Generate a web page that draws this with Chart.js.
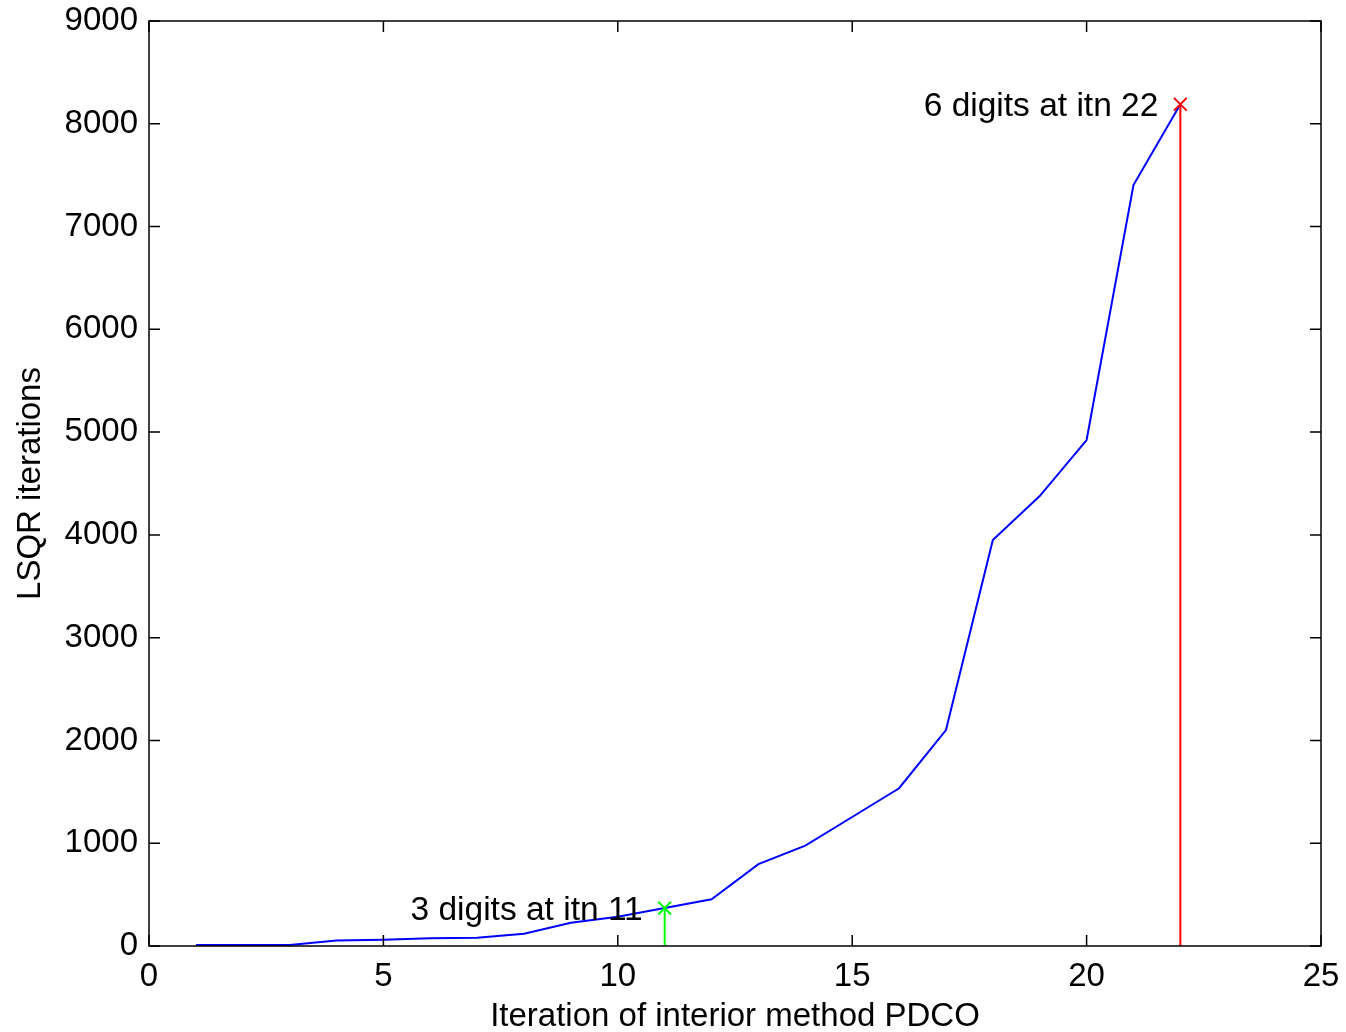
<!DOCTYPE html>
<html>
<head>
<meta charset="utf-8">
<script src="https://cdn.jsdelivr.net/npm/chart.js@4/dist/chart.umd.min.js"></script>
<style>
  html, body { margin: 0; padding: 0; background: #fff; }
  #wrap { width: 1346px; height: 1032px; }
</style>
</head>
<body>
<div id="wrap"><canvas id="lsqrChart"></canvas></div>
<script>
// PDCO outer iterations and LSQR iterations
const pdcoItn = [1, 2, 3, 4, 5, 6, 7, 8, 9, 10, 11, 12, 13, 14, 15, 16, 17, 18, 19, 20, 21, 22];
const lsqrItn = [10, 10, 10, 53, 60, 76, 80, 120, 226, 285, 369, 455, 796, 976, 1255, 1535, 2101, 3950, 4378, 4923, 7404, 8190];

// markers for digits of accuracy
const markItn = [11, 22];
const markVal = [369, 8190];
const markText = ['3 digits at itn 11', '6 digits at itn 22'];
const markColor = ['#00ff00', '#ff0000'];

const xTicks = [0, 5, 10, 15, 20, 25];
const yTicks = [0, 1000, 2000, 3000, 4000, 5000, 6000, 7000, 8000, 9000];

const FONT = '"Liberation Sans", Arial, Helvetica, sans-serif';

const stems = markItn.map((itn, i) => ({
  label: markText[i],
  data: [{x: itn, y: 0}, {x: itn, y: markVal[i]}],
  borderColor: markColor[i],
  backgroundColor: markColor[i],
  borderWidth: 2,
  pointStyle: 'crossRot',
  pointRadius: [0, 9],
  pointBorderWidth: 2,
  pointBorderColor: markColor[i],
  order: 1
}));

// MATLAB style box with inward ticks
const boxPlugin = {
  id: 'box',
  afterDraw(chart) {
    const {ctx, chartArea: a, scales} = chart;
    ctx.save();
    ctx.strokeStyle = '#000';
    ctx.lineWidth = 1.5;
    ctx.strokeRect(a.left, a.top, a.right - a.left, a.bottom - a.top);
    const len = 11;
    ctx.beginPath();
    xTicks.forEach(v => {
      const px = scales.x.getPixelForValue(v);
      ctx.moveTo(px, a.bottom); ctx.lineTo(px, a.bottom - len);
      ctx.moveTo(px, a.top); ctx.lineTo(px, a.top + len);
    });
    yTicks.forEach(v => {
      const py = scales.y.getPixelForValue(v);
      ctx.moveTo(a.left, py); ctx.lineTo(a.left + len, py);
      ctx.moveTo(a.right, py); ctx.lineTo(a.right - len, py);
    });
    ctx.stroke();
    ctx.restore();
  }
};

// text next to the markers
const labelPlugin = {
  id: 'markLabels',
  afterDatasetsDraw(chart) {
    const {ctx, scales} = chart;
    ctx.save();
    ctx.font = '33.5px ' + FONT;
    ctx.fillStyle = '#000';
    ctx.textAlign = 'right';
    ctx.textBaseline = 'middle';
    markItn.forEach((itn, i) => {
      const px = scales.x.getPixelForValue(itn);
      const py = scales.y.getPixelForValue(markVal[i]);
      ctx.fillText(markText[i], px - 22, py + 3);
    });
    ctx.restore();
  }
};

new Chart(document.getElementById('lsqrChart'), {
  type: 'line',
  data: {
    datasets: [{
      label: 'LSQR iterations',
      data: pdcoItn.map((x, i) => ({x: x, y: lsqrItn[i]})),
      borderColor: '#0000ff',
      borderWidth: 2,
      pointRadius: 0,
      fill: false,
      tension: 0,
      order: 2
    }, ...stems]
  },
  options: {
    responsive: true,
    maintainAspectRatio: false,
    animation: false,
    layout: { padding: { top: 21, right: 25, left: 0, bottom: 0 } },
    plugins: {
      legend: { display: false },
      tooltip: { enabled: false }
    },
    scales: {
      x: {
        type: 'linear',
        min: 0,
        max: 25,
        afterFit: s => { s.height = 86; s.paddingLeft = 0; s.paddingRight = 0; },
        afterBuildTicks: s => { s.ticks = xTicks.map(v => ({value: v})); },
        grid: { display: false, drawTicks: false },
        border: { display: false },
        ticks: { padding: 11, color: '#000', font: { family: FONT, size: 33 }, maxRotation: 0,
                 callback: v => String(v) },
        title: {
          display: true,
          text: 'Iteration of interior method PDCO',
          color: '#000',
          font: { family: FONT, size: 33, lineHeight: 0.9 },
          padding: { top: 0, bottom: 0 }
        }
      },
      y: {
        min: 0,
        max: 9000,
        afterFit: s => { s.width = 149; s.paddingTop = 0; s.paddingBottom = 0; },
        afterBuildTicks: s => { s.ticks = yTicks.map(v => ({value: v})); },
        grid: { display: false, drawTicks: false },
        border: { display: false },
        ticks: { padding: 11, color: '#000', font: { family: FONT, size: 33 },
                 callback: v => String(v) },
        title: {
          display: true,
          text: 'LSQR iterations',
          color: '#000',
          font: { family: FONT, size: 33, lineHeight: 1 },
          padding: { top: 14, bottom: 0 }
        }
      }
    }
  },
  plugins: [boxPlugin, labelPlugin]
});
</script>
</body>
</html>
